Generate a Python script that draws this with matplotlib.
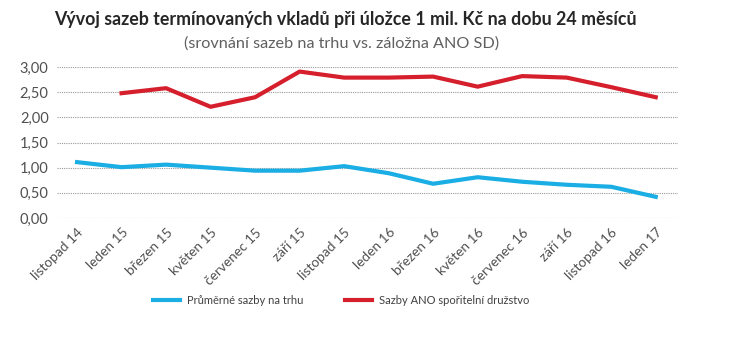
import numpy as np
from matplotlib import pyplot as plt

months = ["listopad 14", "leden 15", "březen 15", "květen 15", "červenec 15", "září 15",
          "listopad 15", "leden 16", "březen 16", "květen 16", "červenec 16", "září 16",
          "listopad 16", "leden 17"]
market = [1.11, 1.01, 1.06, 1.00, 0.94, 0.94, 1.03, 0.89, 0.68, 0.81, 0.72, 0.66, 0.62, 0.42]
ano = [np.nan, 2.48, 2.58, 2.21, 2.40, 2.91, 2.79, 2.79, 2.81, 2.61, 2.82, 2.79, 2.60, 2.40]
yticks = [0, 0.5, 1.0, 1.5, 2.0, 2.5, 3.0]

plt.rcParams["font.family"] = ["Lato", "DejaVu Sans"]

fig = plt.figure(figsize=(7.5, 3.51), dpi=100)
ax = fig.add_axes([0.076, 0.379, 0.828, 0.43])

x = np.arange(len(months))
ax.plot(x, market, color="#1aaee5", lw=3, label="Průměrné sazby na trhu")
ax.plot(x, ano, color="#d61f2c", lw=3, label="Sazby ANO spořitelní družstvo")

ax.set_xlim(-0.45, 13.5)
ax.set_ylim(0, 3)
ax.set_yticks(yticks)
ax.set_yticklabels([f"{v:.2f}".replace(".", ",") for v in yticks], fontsize=10.5,
                   color="#505050")
ax.set_xticks(x)
ax.set_xticklabels(months, rotation=45, ha="right", rotation_mode="anchor",
                   fontsize=9.8, color="#505050")
ax.tick_params(length=0, pad=6)
ax.grid(axis="y", linestyle=(0, (1, 1)), color="#999999", lw=0.8)
ax.set_axisbelow(True)
for s in ax.spines.values():
    s.set_visible(False)

fig.text(0.46, 0.945, "Vývoj sazeb termínovaných vkladů při úložce 1 mil. Kč na dobu 24 měsíců",
         ha="center", va="center", fontsize=12.8, fontweight="bold", color="#262626")
fig.text(0.455, 0.875, "(srovnání sazeb na trhu vs. záložna ANO SD)",
         ha="center", va="center", fontsize=11.7, color="#606060")

fig.legend(loc="center", bbox_to_anchor=(0.455, 0.145), ncol=2, frameon=False,
           fontsize=8, handlelength=2.4, handletextpad=0.6, columnspacing=3.8,
           labelcolor="#404040")

fig.savefig("out.png", dpi=100)
